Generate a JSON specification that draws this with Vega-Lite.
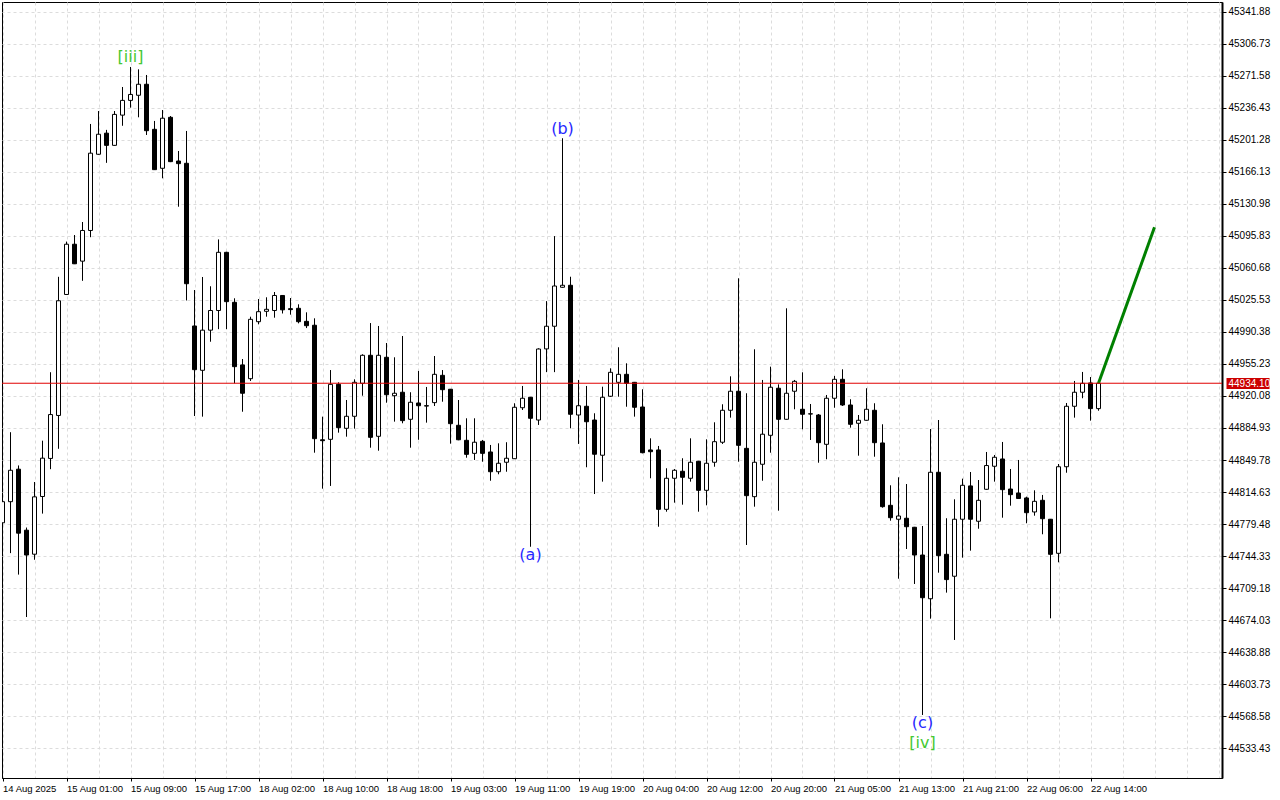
{
  "$schema": "https://vega.github.io/schema/vega-lite/v6.json",
  "width": 1220,
  "height": 776,
  "autosize": {"type": "none"},
  "padding": {"left": 2, "top": 2, "right": 58, "bottom": 22},
  "background": "white",
  "config": {"view": {"stroke": "black", "strokeWidth": 1}},
  "datasets": {
    "candles": [
      {"k":0,"o":44780.8,"h":44808.0,"l":44770.0,"c":44804.0},
      {"k":1,"o":44804.0,"h":44880.3,"l":44747.5,"c":44838.5},
      {"k":2,"o":44839.7,"h":44843.8,"l":44723.9,"c":44769.4},
      {"k":3,"o":44772.7,"h":44775.6,"l":44677.3,"c":44745.4},
      {"k":4,"o":44746.3,"h":44825.6,"l":44740.2,"c":44809.3},
      {"k":5,"o":44809.7,"h":44871.0,"l":44790.9,"c":44851.8},
      {"k":6,"o":44851.5,"h":44946.2,"l":44839.7,"c":44899.7},
      {"k":7,"o":44898.7,"h":45051.0,"l":44862.1,"c":45024.7},
      {"k":8,"o":45031.6,"h":45089.7,"l":45031.0,"c":45086.8},
      {"k":9,"o":45086.8,"h":45096.9,"l":45065.0,"c":45065.3},
      {"k":10,"o":45068.2,"h":45111.2,"l":45046.6,"c":45101.9},
      {"k":11,"o":45101.9,"h":45218.9,"l":45094.5,"c":45186.8},
      {"k":12,"o":45185.6,"h":45233.1,"l":45185.0,"c":45207.6},
      {"k":13,"o":45208.8,"h":45212.4,"l":45176.2,"c":45195.4},
      {"k":14,"o":45195.4,"h":45233.1,"l":45195.0,"c":45229.4},
      {"k":15,"o":45228.6,"h":45259.5,"l":45216.9,"c":45244.8},
      {"k":16,"o":45244.8,"h":45281.5,"l":45236.8,"c":45251.3},
      {"k":17,"o":45250.4,"h":45278.9,"l":45226.2,"c":45262.5},
      {"k":18,"o":45262.5,"h":45272.7,"l":45206.8,"c":45211.5},
      {"k":19,"o":45213.0,"h":45222.2,"l":45168.5,"c":45168.7},
      {"k":20,"o":45170.2,"h":45234.2,"l":45159.2,"c":45225.2},
      {"k":21,"o":45226.2,"h":45227.6,"l":45177.0,"c":45177.5},
      {"k":22,"o":45178.2,"h":45189.2,"l":45128.0,"c":45175.3},
      {"k":23,"o":45175.7,"h":45211.2,"l":45025.0,"c":45043.4},
      {"k":24,"o":44997.0,"h":45036.5,"l":44898.1,"c":44949.0},
      {"k":25,"o":44948.3,"h":45050.8,"l":44897.4,"c":44992.4},
      {"k":26,"o":44992.4,"h":45040.6,"l":44979.7,"c":45014.0},
      {"k":27,"o":45014.0,"h":45092.1,"l":44993.5,"c":45077.9},
      {"k":28,"o":45077.9,"h":45078.5,"l":44993.5,"c":45023.7},
      {"k":29,"o":45023.0,"h":45027.4,"l":44934.0,"c":44952.3},
      {"k":30,"o":44954.2,"h":44960.7,"l":44902.8,"c":44923.1},
      {"k":31,"o":44939.1,"h":45007.2,"l":44936.6,"c":45004.3},
      {"k":32,"o":45001.7,"h":45026.6,"l":44998.8,"c":45012.7},
      {"k":33,"o":45013.1,"h":45028.5,"l":45007.2,"c":45015.3},
      {"k":34,"o":45014.0,"h":45034.3,"l":45006.1,"c":45030.5},
      {"k":35,"o":45030.5,"h":45031.0,"l":45010.7,"c":45014.7},
      {"k":36,"o":45016.0,"h":45027.7,"l":45009.4,"c":45015.0},
      {"k":37,"o":45016.4,"h":45020.8,"l":44999.9,"c":45001.7},
      {"k":38,"o":45002.1,"h":45012.0,"l":44994.7,"c":44997.3},
      {"k":39,"o":44997.8,"h":45005.4,"l":44857.8,"c":44873.2},
      {"k":40,"o":44872.0,"h":44897.4,"l":44818.3,"c":44871.0},
      {"k":41,"o":44872.5,"h":44948.6,"l":44821.3,"c":44932.9},
      {"k":42,"o":44932.9,"h":44935.1,"l":44879.8,"c":44885.3},
      {"k":43,"o":44884.6,"h":44915.7,"l":44875.4,"c":44897.8},
      {"k":44,"o":44897.8,"h":44938.4,"l":44884.2,"c":44935.1},
      {"k":45,"o":44934.0,"h":44965.9,"l":44920.4,"c":44964.8},
      {"k":46,"o":44964.8,"h":45000.2,"l":44863.3,"c":44874.7},
      {"k":47,"o":44875.8,"h":44997.0,"l":44860.0,"c":44964.8},
      {"k":48,"o":44962.6,"h":44978.3,"l":44912.7,"c":44921.5},
      {"k":49,"o":44920.4,"h":44962.6,"l":44891.9,"c":44923.1},
      {"k":50,"o":44924.2,"h":44986.0,"l":44890.1,"c":44893.0},
      {"k":51,"o":44894.5,"h":44924.2,"l":44863.3,"c":44913.2},
      {"k":52,"o":44912.4,"h":44947.6,"l":44872.0,"c":44909.4},
      {"k":53,"o":44909.0,"h":44930.0,"l":44890.8,"c":44909.5},
      {"k":54,"o":44912.8,"h":44964.0,"l":44909.1,"c":44943.9},
      {"k":55,"o":44942.8,"h":44948.6,"l":44913.8,"c":44927.0},
      {"k":56,"o":44927.5,"h":44927.8,"l":44867.7,"c":44889.7},
      {"k":57,"o":44887.9,"h":44915.7,"l":44871.5,"c":44872.0},
      {"k":58,"o":44871.4,"h":44895.6,"l":44852.3,"c":44856.0},
      {"k":59,"o":44857.1,"h":44895.6,"l":44849.8,"c":44869.3},
      {"k":60,"o":44870.3,"h":44871.8,"l":44847.9,"c":44857.1},
      {"k":61,"o":44858.6,"h":44866.3,"l":44827.0,"c":44836.9},
      {"k":62,"o":44836.9,"h":44868.1,"l":44834.1,"c":44846.2},
      {"k":63,"o":44847.3,"h":44869.3,"l":44836.9,"c":44851.7},
      {"k":64,"o":44851.2,"h":44912.1,"l":44851.0,"c":44907.7},
      {"k":65,"o":44907.2,"h":44931.1,"l":44904.7,"c":44917.6},
      {"k":66,"o":44918.7,"h":44919.0,"l":44754.5,"c":44895.6},
      {"k":67,"o":44893.7,"h":44972.5,"l":44888.3,"c":44971.7},
      {"k":68,"o":44971.8,"h":45024.3,"l":44946.3,"c":44996.7},
      {"k":69,"o":44996.7,"h":45095.7,"l":44946.3,"c":45040.9},
      {"k":70,"o":45039.5,"h":45203.2,"l":45039.0,"c":45041.7},
      {"k":71,"o":45041.7,"h":45051.1,"l":44884.6,"c":44900.0},
      {"k":72,"o":44899.2,"h":44937.7,"l":44867.4,"c":44909.4},
      {"k":73,"o":44908.8,"h":44931.1,"l":44841.8,"c":44891.8},
      {"k":74,"o":44893.7,"h":44901.1,"l":44812.4,"c":44856.1},
      {"k":75,"o":44855.0,"h":44930.3,"l":44826.0,"c":44918.7},
      {"k":76,"o":44919.8,"h":44950.5,"l":44919.0,"c":44946.1},
      {"k":77,"o":44935.1,"h":44973.6,"l":44919.3,"c":44943.9},
      {"k":78,"o":44943.9,"h":44956.0,"l":44908.3,"c":44934.0},
      {"k":79,"o":44935.1,"h":44935.5,"l":44897.4,"c":44907.7},
      {"k":80,"o":44908.0,"h":44927.5,"l":44857.1,"c":44857.8},
      {"k":81,"o":44860.8,"h":44873.6,"l":44829.7,"c":44858.9},
      {"k":82,"o":44860.8,"h":44865.2,"l":44776.5,"c":44795.6},
      {"k":83,"o":44795.6,"h":44840.7,"l":44793.0,"c":44829.7},
      {"k":84,"o":44829.7,"h":44839.9,"l":44802.9,"c":44838.5},
      {"k":85,"o":44837.4,"h":44851.7,"l":44800.7,"c":44830.8},
      {"k":86,"o":44829.7,"h":44873.6,"l":44826.0,"c":44847.3},
      {"k":87,"o":44848.4,"h":44848.8,"l":44793.0,"c":44816.5},
      {"k":88,"o":44816.5,"h":44872.5,"l":44800.0,"c":44846.2},
      {"k":89,"o":44847.3,"h":44891.2,"l":44842.4,"c":44869.9},
      {"k":90,"o":44869.3,"h":44911.0,"l":44867.4,"c":44904.4},
      {"k":91,"o":44904.4,"h":44941.7,"l":44896.3,"c":44925.3},
      {"k":92,"o":44925.3,"h":45049.4,"l":44847.9,"c":44865.9},
      {"k":93,"o":44862.6,"h":44923.1,"l":44756.4,"c":44810.6},
      {"k":94,"o":44809.5,"h":44971.4,"l":44798.5,"c":44847.3},
      {"k":95,"o":44845.1,"h":44937.7,"l":44827.0,"c":44878.1},
      {"k":96,"o":44876.9,"h":44952.3,"l":44857.8,"c":44929.7},
      {"k":97,"o":44928.6,"h":44932.9,"l":44794.1,"c":44894.5},
      {"k":98,"o":44894.5,"h":45016.4,"l":44894.0,"c":44923.1},
      {"k":99,"o":44925.3,"h":44937.7,"l":44905.5,"c":44936.2},
      {"k":100,"o":44905.5,"h":44946.1,"l":44883.5,"c":44900.0},
      {"k":101,"o":44900.5,"h":44911.3,"l":44871.8,"c":44900.3},
      {"k":102,"o":44899.2,"h":44900.3,"l":44846.8,"c":44868.8},
      {"k":103,"o":44867.0,"h":44921.2,"l":44850.6,"c":44917.6},
      {"k":104,"o":44917.6,"h":44942.1,"l":44907.2,"c":44938.4},
      {"k":105,"o":44938.4,"h":44949.4,"l":44909.1,"c":44910.2},
      {"k":106,"o":44910.2,"h":44916.5,"l":44885.3,"c":44889.0},
      {"k":107,"o":44890.1,"h":44899.2,"l":44854.5,"c":44893.4},
      {"k":108,"o":44893.4,"h":44928.6,"l":44893.0,"c":44905.5},
      {"k":109,"o":44904.4,"h":44912.1,"l":44853.4,"c":44868.8},
      {"k":110,"o":44868.5,"h":44889.0,"l":44797.4,"c":44798.5},
      {"k":111,"o":44800.0,"h":44822.0,"l":44783.1,"c":44786.4},
      {"k":112,"o":44784.7,"h":44830.8,"l":44719.4,"c":44788.3},
      {"k":113,"o":44785.8,"h":44823.4,"l":44752.0,"c":44776.5},
      {"k":114,"o":44775.9,"h":44776.3,"l":44713.6,"c":44745.4},
      {"k":115,"o":44745.4,"h":44777.3,"l":44569.7,"c":44698.5},
      {"k":116,"o":44697.4,"h":44883.8,"l":44675.5,"c":44836.3},
      {"k":117,"o":44836.3,"h":44893.7,"l":44726.0,"c":44744.7},
      {"k":118,"o":44746.2,"h":44785.8,"l":44704.1,"c":44718.4},
      {"k":119,"o":44722.1,"h":44806.6,"l":44652.1,"c":44784.7},
      {"k":120,"o":44784.7,"h":44829.3,"l":44742.5,"c":44822.0},
      {"k":121,"o":44821.3,"h":44836.6,"l":44750.2,"c":44784.7},
      {"k":122,"o":44782.5,"h":44827.8,"l":44774.3,"c":44805.5},
      {"k":123,"o":44817.6,"h":44858.6,"l":44817.0,"c":44843.7},
      {"k":124,"o":44842.9,"h":44855.3,"l":44826.0,"c":44852.8},
      {"k":125,"o":44850.9,"h":44869.6,"l":44786.4,"c":44817.2},
      {"k":126,"o":44817.9,"h":44839.9,"l":44799.6,"c":44811.7},
      {"k":127,"o":44813.5,"h":44849.8,"l":44807.0,"c":44807.5},
      {"k":128,"o":44808.1,"h":44809.5,"l":44780.3,"c":44791.9},
      {"k":129,"o":44792.7,"h":44816.5,"l":44788.6,"c":44804.4},
      {"k":130,"o":44805.5,"h":44811.4,"l":44768.2,"c":44785.3},
      {"k":131,"o":44784.7,"h":44785.0,"l":44675.9,"c":44746.2},
      {"k":132,"o":44747.3,"h":44845.4,"l":44737.4,"c":44842.4},
      {"k":133,"o":44842.4,"h":44912.4,"l":44835.8,"c":44908.8},
      {"k":134,"o":44908.8,"h":44936.6,"l":44896.3,"c":44924.2},
      {"k":135,"o":44924.2,"h":44946.5,"l":44917.6,"c":44934.0},
      {"k":136,"o":44934.4,"h":44940.9,"l":44893.0,"c":44906.2},
      {"k":137,"o":44906.2,"h":44936.6,"l":44903.9,"c":44934.1}
    ],
    "projection": [
      {"k":137,"p":44934.1},
      {"k":144,"p":45105.4}
    ],
    "waves": [
      {"k":16,"p":45292.5,"t":"[iii]","set":"impulse"},
      {"k":70,"p":45213.4,"t":"(b)","set":"correction"},
      {"k":66,"p":44745.5,"t":"(a)","set":"correction"},
      {"k":115,"p":44560.9,"t":"(c)","set":"correction"},
      {"k":115,"p":44538.9,"t":"[iv]","set":"impulse"}
    ],
    "price": [{"p":44934.10}]
  },
  "resolve": {"axis": {"y": "independent"}},
  "layer": [
    {
      "encoding": {
        "x": {
          "field": "k", "type": "quantitative",
          "scale": {"domain": [-0.0625, 152.4375], "nice": false, "zero": false, "padding": 0},
          "axis": {
            "orient": "bottom", "title": null,
            "values": [0,4,8,12,16,20,24,28,32,36,40,44,48,52,56,60,64,68,72,76,80,84,88,92,96,100,104,108,112,116,120,124,128,132,136,140,144,148,152],
            "labelExpr": "(datum.value % 8 == 0 && datum.value <= 136) ? ['14 Aug 2025','15 Aug 01:00','15 Aug 09:00','15 Aug 17:00','18 Aug 02:00','18 Aug 10:00','18 Aug 18:00','19 Aug 03:00','19 Aug 11:00','19 Aug 19:00','20 Aug 04:00','20 Aug 12:00','20 Aug 20:00','21 Aug 05:00','21 Aug 13:00','21 Aug 21:00','22 Aug 06:00','22 Aug 14:00'][datum.value / 8] : ''",
            "grid": true, "gridColor": "#dcdcdc", "gridDash": [3, 3],
            "tickSize": 3,
            "tickColor": {"condition": {"test": "datum.value % 8 != 0 || datum.value > 136", "value": "transparent"}, "value": "black"},
            "domainColor": "black",
            "labelAlign": "left", "labelBaseline": "top", "labelPadding": 2,
            "labelFont": "Liberation Sans", "labelFontSize": 9.5, "labelColor": "black"
          }
        },
        "y": {
          "field": "l", "type": "quantitative",
          "scale": {"domain": [44500.48, 45352.86], "nice": false, "zero": false, "padding": 0},
          "axis": {
            "orient": "right", "title": null,
            "values": [44533.43,44568.58,44603.73,44638.88,44674.03,44709.18,44744.33,44779.48,44814.63,44849.78,44884.93,44920.08,44955.23,44990.38,45025.53,45060.68,45095.83,45130.98,45166.13,45201.28,45236.43,45271.58,45306.73,45341.88],
            "format": ".2f",
            "grid": true, "gridColor": "#dcdcdc", "gridDash": [3, 3],
            "tickSize": 4, "tickColor": "black",
            "domainColor": "black", "domainWidth": 2,
            "labelFont": "Liberation Sans", "labelFontSize": 10, "labelColor": "black",
            "labelPadding": 2
          }
        }
      },
      "layer": [
        {
          "data": {"name": "candles"},
          "mark": {"type": "rule", "color": "black", "strokeWidth": 1, "clip": true},
          "encoding": {
            "y2": {"field": "h"}
          }
        },
        {
          "data": {"name": "candles"},
          "mark": {"type": "bar", "size": 4, "stroke": "black", "strokeWidth": 1, "clip": true},
          "encoding": {
            "y": {"field": "o"},
            "y2": {"field": "c"},
            "fill": {"condition": {"test": "datum.c >= datum.o", "value": "white"}, "value": "black"}
          }
        },
        {
          "data": {"name": "projection"},
          "mark": {"type": "line", "color": "#008000", "strokeWidth": 3, "clip": true},
          "encoding": {
            "y": {"field": "p"}
          }
        },
        {
          "data": {"name": "waves"},
          "mark": {"type": "text", "font": "DejaVu Sans", "fontSize": 16, "align": "center", "baseline": "middle"},
          "encoding": {
            "y": {"field": "p"},
            "text": {"field": "t"},
            "color": {"field": "set", "type": "nominal", "scale": {"domain": ["impulse", "correction"], "range": ["#44c832", "#2828ff"]}, "legend": null}
          }
        }
      ]
    },
    {
      "data": {"name": "price"},
      "mark": {"type": "rule", "color": "#e00000", "strokeWidth": 1},
      "encoding": {
        "y": {
          "field": "p", "type": "quantitative",
          "scale": {"domain": [44500.48, 45352.86], "nice": false, "zero": false, "padding": 0},
          "axis": {
            "orient": "right", "title": null,
            "values": [44934.10], "format": ".2f",
            "grid": false, "domain": false, "offset": 4,
            "tickSize": 43, "tickWidth": 11, "tickColor": "#cc0000",
            "labelColor": "white", "labelPadding": -41,
            "labelFont": "Liberation Sans", "labelFontSize": 10, "labelBaseline": "middle"
          }
        }
      }
    }
  ]
}
